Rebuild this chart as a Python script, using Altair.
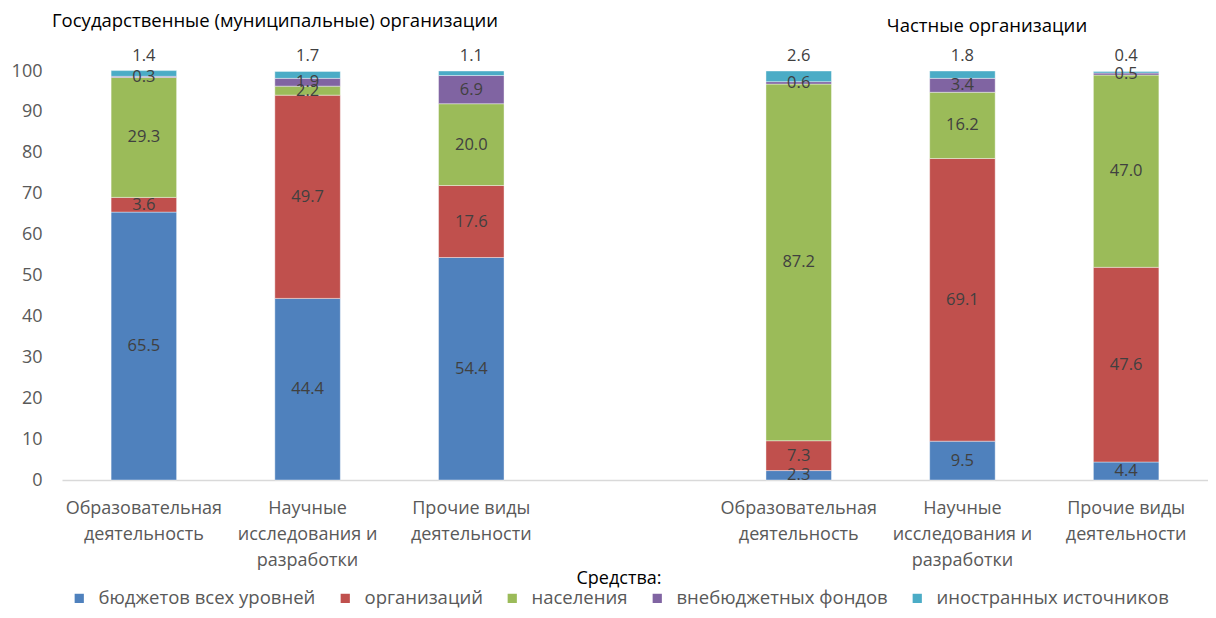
import altair as alt
import pandas as pd

# ---- data ----
keys = ["g1", "g2", "g3", "gap", "p1", "p2", "p3"]
labels = [
    ["Образовательная", "деятельность"],
    ["Научные", "исследования и", "разработки"],
    ["Прочие виды", "деятельности"],
    [""],
    ["Образовательная", "деятельность"],
    ["Научные", "исследования и", "разработки"],
    ["Прочие виды", "деятельности"],
]
series = ["бюджетов всех уровней", "организаций", "населения",
          "внебюджетных фондов", "иностранных источников"]
colors = ["#4F81BD", "#C0504D", "#9BBB59", "#8064A2", "#4BACC6"]

budget = [65.5, 44.4, 54.4, 2.3, 9.5, 4.4]
orgs = [3.6, 49.7, 17.6, 7.3, 69.1, 47.6]
population = [29.3, 2.2, 20.0, 87.2, 16.2, 47.0]
extra = [0.3, 1.9, 6.9, 0.6, 3.4, 0.5]
foreign = [1.4, 1.7, 1.1, 2.6, 1.8, 0.4]

bar_keys = ["g1", "g2", "g3", "p1", "p2", "p3"]
rows = []
for si, vals in enumerate([budget, orgs, population, extra, foreign]):
    for k, v in zip(bar_keys, vals):
        rows.append({"cat": k, "series": series[si], "ord": si, "value": v})
df = pd.DataFrame(rows)

label_map = "{" + ", ".join(
    "'%s': [%s]" % (k, ", ".join("'%s'" % s for s in lab)) for k, lab in zip(keys, labels)
) + "}"

FONT = "Open Sans"

x_enc = alt.X("cat:N", scale=alt.Scale(domain=keys, paddingInner=0.6, paddingOuter=0.3),
              axis=alt.Axis(title=None, labelExpr=label_map + "[datum.value]",
                            labelAngle=0, labelFontSize=18, labelColor="#595959",
                            labelFont=FONT, labelPadding=19, labelLineHeight=26,
                            ticks=False, domainColor="#d9d9d9", domainWidth=1.5,
                            labelBaseline="top"))

base = alt.Chart(df).transform_stack(
    stack="value", as_=["y0", "y1"], groupby=["cat"], sort=[alt.SortField("ord")]
).transform_calculate(mid="(datum.y0 + datum.y1) / 2")

bars = base.mark_bar(stroke="white", strokeWidth=0.4).encode(
    x=x_enc,
    y=alt.Y("y0:Q", scale=alt.Scale(domain=[0, 100], nice=False),
            axis=alt.Axis(title=None, values=list(range(0, 101, 10)), grid=False,
                          domain=False, ticks=False, labelFontSize=18,
                          labelColor="#595959", labelFont=FONT, labelPadding=20)),
    y2="y1:Q",
    color=alt.Color("series:N", scale=alt.Scale(domain=series, range=colors),
                    legend=alt.Legend(title="Средства:", orient="none", legendX=8,
                                      legendY=499, direction="horizontal",
                                      titleOrient="top", titleAnchor="middle",
                                      titleFont=FONT, titleFontSize=18,
                                      titleFontWeight="normal", titleColor="#000000",
                                      labelFont=FONT, labelFontSize=18.5,
                                      labelColor="#595959", symbolType="square",
                                      symbolSize=85, symbolStrokeWidth=0,
                                      labelOffset=10, columnPadding=20,
                                      titlePadding=1, labelLimit=400)),
    order=alt.Order("ord:Q"),
)

inner = base.transform_filter("datum.ord < 4").mark_text(
    fontSize=16.5, font=FONT, color="#404040", baseline="middle"
).encode(x=alt.X("cat:N"), y=alt.Y("mid:Q"), text=alt.Text("value:Q", format=".1f"))

top = base.transform_filter("datum.ord == 4").mark_text(
    fontSize=16.5, font=FONT, color="#404040", baseline="middle", dy=-15
).encode(x=alt.X("cat:N"), y=alt.Y("y1:Q"), text=alt.Text("value:Q", format=".1f"))

t1 = alt.Chart(pd.DataFrame({"t": ["Государственные (муниципальные) организации"]})).mark_text(
    font=FONT, fontSize=18.5, color="#000000", align="left", baseline="middle"
).encode(x=alt.value(-10), y=alt.value(-50), text="t:N")
t2 = alt.Chart(pd.DataFrame({"t": ["Частные организации"]})).mark_text(
    font=FONT, fontSize=18.5, color="#000000", align="center", baseline="middle"
).encode(x=alt.value(925), y=alt.value(-45), text="t:N")

chart = alt.layer(bars, inner, top, t1, t2).properties(
    width=1146, height=409,
    autosize=alt.AutoSizeParams(type="none"),
    padding={"left": 54, "top": 63, "right": 0, "bottom": 130},
).configure_view(stroke=None)

chart.save("out.html", embed_options={"renderer": "svg", "actions": False})
